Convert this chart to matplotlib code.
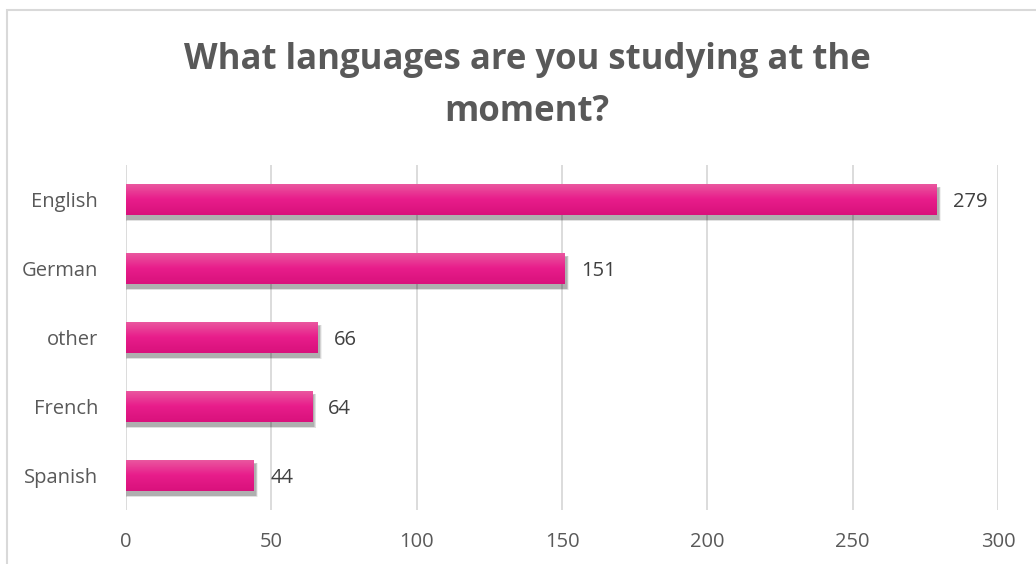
import matplotlib.pyplot as plt
import numpy as np
from matplotlib.colors import LinearSegmentedColormap
from matplotlib.patches import Rectangle

# data
languages = ["English", "German", "other", "French", "Spanish"]
counts = [279, 151, 66, 64, 44]
x_ticks = [0, 50, 100, 150, 200, 250, 300]

plt.rcParams['font.family'] = ['Open Sans', 'DejaVu Sans']

fig = plt.figure(figsize=(10.36, 5.64), dpi=100)
ax = fig.add_axes([126/1036, 1 - 510/564, 872/1036, 345/564])

# chart border (top and left visible)
fig.add_artist(Rectangle((7/1036, -0.1), 1.2, 1 - 10/564 + 0.1, transform=fig.transFigure,
                         fill=False, edgecolor="#d9d9d9", linewidth=1.5))

ypos = np.arange(len(languages))[::-1]
bar_h = 0.46

# gradient for bars: lighter on top, deeper at bottom
grad = LinearSegmentedColormap.from_list("pinkgrad", ["#d9117c", "#e81d8b", "#ea5aa0"])
g = np.linspace(0, 1, 64).reshape(-1, 1)

for y, v in zip(ypos, counts):
    # soft shadow mostly under the bar
    for k in range(6):
        grow = k * 0.3
        ax.add_patch(Rectangle((0.3 - grow * 0.3, y - bar_h/2 - 0.06 - grow * 0.012),
                               v + 0.3 + grow * 0.8, bar_h + grow * 0.02,
                               facecolor="#000000", alpha=0.06, edgecolor="none", zorder=2))
    bar = ax.barh(y, v, height=bar_h, color="#e81d8b", zorder=3)[0]
    im = ax.imshow(g, cmap=grad, aspect="auto", origin="lower",
                   extent=[0, v, y - bar_h/2, y + bar_h/2], zorder=4)
    im.set_clip_path(bar)
    ax.text(v + 5.6, y - 0.03, str(v), va="center", ha="left", fontsize=14.5, color="#404040")

ax.set_xlim(0, 300)
ax.set_ylim(-0.5, len(languages) - 0.5)
ax.set_yticks(ypos)
ax.set_yticklabels(languages)
ax.set_xticks(x_ticks)
ax.set_aspect("auto")

ax.grid(axis="x", color="#d9d9d9", linewidth=1.3, zorder=0)
ax.set_axisbelow(True)
for s in ax.spines.values():
    s.set_visible(False)
ax.tick_params(axis="both", length=0, labelsize=14.5, colors="#595959")
ax.tick_params(axis="y", pad=20)
ax.tick_params(axis="x", pad=16)

fig.text(527/1036, 1 - 60/564, "What languages are you studying at the", ha="center", va="center",
         fontsize=25, fontweight="bold", color="#595959")
fig.text(527/1036, 1 - 112/564, "moment?", ha="center", va="center",
         fontsize=25, fontweight="bold", color="#595959")

fig.savefig("out.png", dpi=100)
